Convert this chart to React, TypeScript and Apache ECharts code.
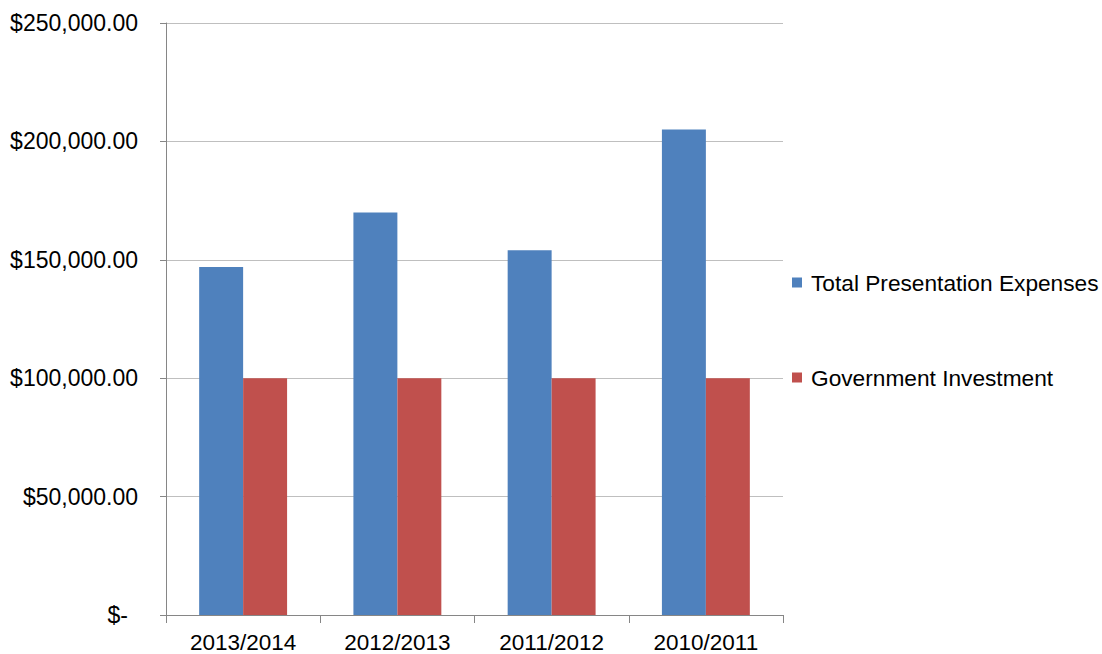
import React, { useEffect, useRef } from "react";
import * as echarts from "echarts";

const categories = ["2013/2014", "2012/2013", "2011/2012", "2010/2011"];
const totalPresentationExpenses = [147000, 170000, 154000, 205000];
const governmentInvestment = [100000, 100000, 100000, 100000];
const seriesNames = ["Total Presentation Expenses", "Government Investment"];

const fmt = (v: number) => {
  if (v === 0) return "{z|$-}";
  return "$" + v.toLocaleString("en-US", { minimumFractionDigits: 2, maximumFractionDigits: 2 });
};

export default function App() {
  const ref = useRef<HTMLDivElement>(null);
  useEffect(() => {
    if (!ref.current) return;
    const chart = echarts.init(ref.current, undefined, { renderer: "svg" });
    const font = "Liberation Sans, Arial, sans-serif";
    chart.setOption({
      animation: false,
      backgroundColor: "#ffffff",
      textStyle: { fontFamily: font },
      grid: { left: 166, right: 319, top: 23, bottom: 39, containLabel: false },
      legend: {
        orient: "vertical",
        left: 787,
        top: 266,
        itemGap: 72,
        itemWidth: 10,
        itemHeight: 10,
        icon: "rect",
        textStyle: { fontSize: 22.7, color: "#000", fontFamily: font, padding: [0, 0, 0, 4] },
        data: seriesNames,
      },
      xAxis: {
        type: "category",
        data: categories,
        axisLine: { lineStyle: { color: "#868686", width: 1 } },
        axisTick: { show: true, length: 8, lineStyle: { color: "#868686" } },
        axisLabel: { color: "#000", fontSize: 22.5, margin: 16, fontFamily: font },
      },
      yAxis: {
        type: "value",
        min: 0,
        max: 250000,
        interval: 50000,
        axisLine: { show: true, lineStyle: { color: "#868686", width: 1 } },
        axisTick: { show: true, length: 6, lineStyle: { color: "#868686" } },
        splitLine: { lineStyle: { color: "#bfbfbf", width: 1 } },
        axisLabel: {
          color: "#000",
          fontSize: 23,
          margin: 28,
          fontFamily: font,
          formatter: fmt,
          rich: { z: { fontSize: 23, color: "#000", fontFamily: font, padding: [0, 10, 0, 0] } },
        },
      },
      series: [
        {
          name: seriesNames[0],
          type: "bar",
          data: totalPresentationExpenses,
          itemStyle: { color: "#4F81BD" },
          barGap: "0%",
          barCategoryGap: "43%",
        },
        {
          name: seriesNames[1],
          type: "bar",
          data: governmentInvestment,
          itemStyle: { color: "#C0504D" },
          barGap: "0%",
          barCategoryGap: "43%",
        },
      ],
    });
    return () => chart.dispose();
  }, []);
  return (
    <div
      ref={ref}
      style={{ position: "absolute", left: 0, top: 0, width: 1102, height: 654 }}
    />
  );
}
